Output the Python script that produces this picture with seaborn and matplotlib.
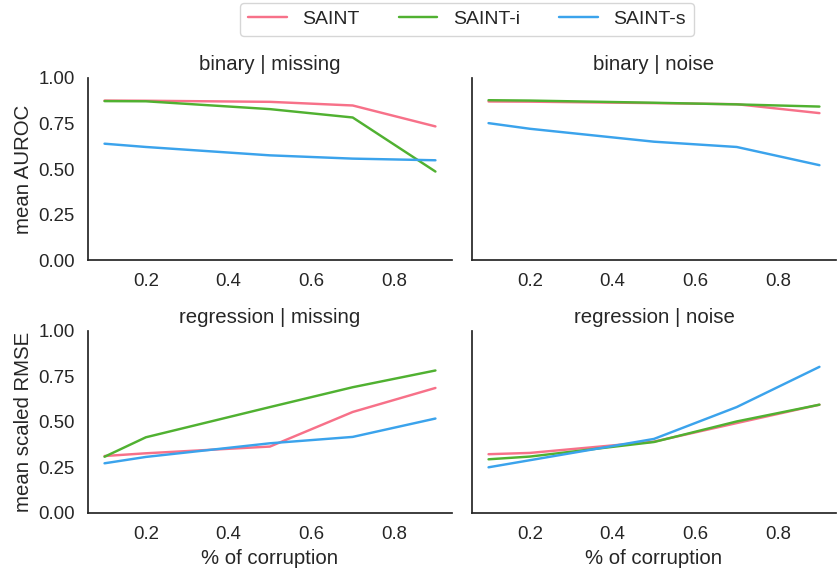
import pandas as pd
import matplotlib.pyplot as plt
import seaborn as sns

sns.set_theme(style="white", context="notebook", font_scale=1.22)
plt.rcParams['font.family'] = ['Liberation Sans', 'DejaVu Sans']

# corruption levels on the x axis
corruption = [0.1, 0.2, 0.5, 0.7, 0.9]
models = ['SAINT', 'SAINT-i', 'SAINT-s']

# binary tasks: mean AUROC
bin_missing_saint = [0.876, 0.875, 0.869, 0.849, 0.734]
bin_missing_saint_i = [0.873, 0.872, 0.829, 0.783, 0.486]
bin_missing_saint_s = [0.639, 0.621, 0.575, 0.557, 0.548]

bin_noise_saint = [0.871, 0.870, 0.862, 0.856, 0.807]
bin_noise_saint_i = [0.878, 0.876, 0.864, 0.855, 0.843]
bin_noise_saint_s = [0.752, 0.721, 0.650, 0.621, 0.521]

# regression tasks: mean scaled RMSE
reg_missing_saint = [0.313, 0.328, 0.365, 0.555, 0.687]
reg_missing_saint_i = [0.309, 0.416, 0.582, 0.691, 0.783]
reg_missing_saint_s = [0.273, 0.308, 0.383, 0.418, 0.519]

reg_noise_saint = [0.323, 0.330, 0.392, 0.494, 0.595]
reg_noise_saint_i = [0.295, 0.310, 0.390, 0.503, 0.595]
reg_noise_saint_s = [0.251, 0.290, 0.407, 0.582, 0.803]

# Build long-format table for relplot
panels = {
    ('binary', 'missing'): [bin_missing_saint, bin_missing_saint_i, bin_missing_saint_s],
    ('binary', 'noise'): [bin_noise_saint, bin_noise_saint_i, bin_noise_saint_s],
    ('regression', 'missing'): [reg_missing_saint, reg_missing_saint_i, reg_missing_saint_s],
    ('regression', 'noise'): [reg_noise_saint, reg_noise_saint_i, reg_noise_saint_s],
}
rows = []
for (task, kind), series in panels.items():
    for model, vals in zip(models, series):
        for x, v in zip(corruption, vals):
            rows.append({'task': task, 'corruption': kind, 'model': model,
                         'pct': x, 'score': v})
df = pd.DataFrame(rows)

g = sns.relplot(
    data=df, x='pct', y='score', hue='model', hue_order=models,
    row='task', col='corruption', kind='line', palette='husl', linewidth=1.75,
    height=1.83, aspect=2.0, facet_kws={'sharey': True, 'sharex': True},
)
g.figure.set_size_inches(8.38, 5.71)
g.figure.subplots_adjust(left=0.105, right=0.9976, top=0.8634, bottom=0.1016,
                         wspace=0.055, hspace=0.39)

g.set_titles("{row_name} | {col_name}")
g.set(ylim=(0, 1), yticks=[0, 0.25, 0.5, 0.75, 1.0])
g.set_axis_labels("% of corruption", "")
g.axes[0, 0].set_ylabel("mean AUROC")
g.axes[1, 0].set_ylabel("mean scaled RMSE")
for ax in g.axes.flat:
    ax.set_yticklabels(["0.00", "0.25", "0.50", "0.75", "1.00"])
    ax.tick_params(labelbottom=True)

sns.move_legend(g, "upper center", bbox_to_anchor=(467 / 838, 1.0), ncol=3,
                frameon=True, title=None, fontsize=14, borderaxespad=0.15)

g.figure.savefig('out.png', dpi=100)
